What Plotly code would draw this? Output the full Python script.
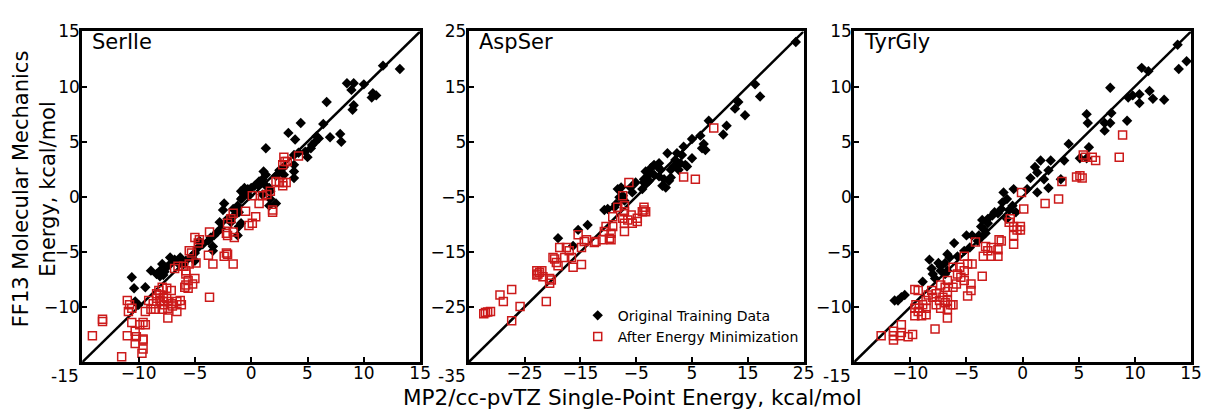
import plotly.graph_objects as go

# ---------------- data ----------------
panel_names = ["SerIle", "AspSer", "TyrGly"]

serile_original = [(11.7,11.9),(13.2,11.6),(8.5,10.3),(9.1,10.3),(8.9,9.7),(10.0,10.2),(10.8,9.4),(11.1,9.2),(10.7,9.0),(9.1,8.3),(9.0,7.9),(6.7,8.6),(4.4,6.7),(6.4,6.6),(3.3,5.8),(3.9,5.2),(7.0,5.4),(7.9,5.7),(8.0,5.0),(5.8,5.5),(6.0,5.3),(5.7,5.0),(5.4,4.7),(5.3,4.4),(4.8,4.1),(5.0,3.6),(4.2,4.0),(3.8,3.8),(1.3,4.4),(3.8,2.9),(3.8,2.3),(3.8,1.7),(2.9,2.0),(2.9,2.7),(2.5,2.4),(2.2,1.9),(1.1,2.3),(1.3,2.0),(1.0,1.6),(0.7,1.4),(0.6,1.1),(0.3,1.0),(0.0,0.8),(-0.3,0.7),(-0.5,0.5),(-0.6,0.2),(-0.8,-0.1),(-0.9,-0.2),(-0.2,0.1),(-0.6,0.8),(-0.9,0.5),(1.3,1.0),(1.6,0.8),(1.7,0.5),(1.6,-0.8),(2.2,-0.6),(1.7,-0.2),(1.0,0.2),(-1.2,-0.8),(-1.6,-1.1),(-1.1,-1.4),(-1.5,-1.7),(-1.8,-2.3),(-0.9,-2.4),(-1.1,-2.7),(-1.2,-3.5),(-2.4,-0.6),(-2.5,-1.2),(-2.1,-2.0),(-2.8,-2.3),(-2.7,-2.9),(-3.0,-3.2),(-3.3,-3.5),(-3.6,-3.7),(-3.8,-4.0),(-3.4,-4.5),(-3.4,-4.9),(-4.3,-4.3),(-4.6,-4.0),(-4.7,-4.6),(-5.0,-5.1),(-5.3,-5.4),(-5.8,-5.8),(-5.0,-5.8),(-6.0,-6.1),(-6.3,-5.5),(-6.8,-5.7),(-7.2,-5.5),(-7.1,-6.0),(-7.5,-6.4),(-7.9,-6.1),(-8.1,-6.7),(-7.7,-6.8),(-7.8,-7.1),(-8.1,-7.2),(-8.4,-7.0),(-8.9,-6.7),(-9.4,-8.2),(-10.3,-9.5),(-10.0,-9.8),(-10.6,-7.3),(-10.4,-8.3),(-6.5,-6.0)]

serile_minimized = [(2.9,3.6),(3.0,3.2),(2.8,2.9),(3.2,3.2),(4.2,3.7),(2.2,1.4),(2.5,1.3),(2.8,1.3),(3.1,1.3),(2.8,1.0),(1.7,0.5),(1.4,0.2),(0.7,-0.6),(1.0,0.1),(0.1,0.1),(0.4,-1.8),(0.1,-2.4),(-0.2,-2.6),(-0.5,-1.3),(1.9,-1.4),(1.9,-1.2),(-1.6,-1.5),(-1.8,-2.0),(-2.1,-2.4),(-1.6,-3.2),(-1.5,-3.7),(-2.2,-3.3),(-2.1,-3.5),(-3.7,-3.2),(-4.6,-3.9),(-5.0,-3.7),(-4.7,-4.2),(-5.5,-4.9),(-5.3,-5.1),(-3.8,-5.3),(-3.4,-6.1),(-2.2,-5.1),(-2.1,-5.2),(-2.4,-5.4),(-1.6,-6.1),(-4.9,-6.0),(-5.5,-6.1),(-5.8,-6.7),(-6.0,-6.3),(-6.5,-6.3),(-6.8,-6.5),(-5.8,-7.0),(-5.0,-7.4),(-5.2,-7.9),(-5.6,-7.6),(-5.8,-8.0),(-5.6,-8.3),(-5.9,-8.2),(-3.7,-9.1),(-6.3,-9.4),(-6.2,-9.8),(-6.6,-9.5),(-6.6,-10.4),(-7.1,-8.5),(-7.5,-8.3),(-7.9,-8.2),(-8.2,-8.5),(-8.4,-8.8),(-8.1,-8.9),(-7.8,-9.1),(-8.4,-9.2),(-8.1,-9.4),(-7.8,-9.5),(-7.5,-9.2),(-7.4,-9.5),(-7.7,-9.8),(-7.1,-9.7),(-7.0,-9.9),(-7.4,-10.1),(-7.9,-10.2),(-8.5,-10.2),(-8.9,-10.2),(-9.4,-10.4),(-8.7,-9.7),(-9.1,-9.4),(-7.4,-11.0),(-11.0,-9.4),(-10.9,-10.4),(-10.8,-9.8),(-10.6,-10.1),(-13.2,-11.3),(-13.2,-11.1),(-14.1,-12.6),(-11.0,-12.6),(-10.3,-12.2),(-10.2,-12.7),(-10.3,-13.3),(-9.6,-12.9),(-9.6,-13.0),(-10.6,-11.4),(-9.9,-11.6),(-9.6,-11.4),(-9.4,-11.6),(-9.7,-14.2),(-11.5,-14.5),(-9.6,-13.8)]

aspser_original = [(23.6,23.1),(16.3,15.4),(17.2,13.2),(13.3,12.2),(12.7,11.0),(14.5,9.8),(8.0,8.8),(11.2,7.9),(10.6,6.3),(6.5,6.1),(5.0,5.5),(7.1,4.6),(6.8,3.8),(7.4,3.5),(3.5,4.1),(3.2,2.6),(5.0,2.0),(0.6,2.9),(2.3,2.9),(2.9,1.1),(2.0,1.7),(1.7,0.5),(2.6,-0.1),(3.8,0.8),(4.1,0.5),(2.3,0.5),(1.2,-0.1),(-0.9,1.1),(-1.8,0.8),(-2.4,0.2),(-2.7,-0.4),(-3.3,-0.4),(-3.0,-1.3),(-3.6,-1.8),(-3.6,-2.4),(-2.7,-2.1),(-1.8,-1.0),(-0.9,-1.3),(0.0,-1.8),(-0.3,-3.0),(0.3,-3.3),(0.9,-2.1),(1.2,-1.5),(-0.6,-0.1),(-1.2,0.5),(-3.0,-2.4),(-3.9,-3.6),(-5.1,-2.4),(-6.0,-3.3),(-5.7,-4.2),(-7.7,-3.3),(-8.3,-3.6),(-7.4,-4.8),(-8.0,-5.1),(-8.6,-6.3),(-8.9,-6.9),(-7.1,-5.7),(-10.1,-7.2),(-10.7,-7.4),(-13.7,-10.1),(-15.4,-11.0),(-19.0,-12.5),(-16.3,-13.9)]

aspser_minimized = [(8.9,7.5),(3.5,-1.4),(5.6,-1.8),(-6.3,-2.4),(-7.4,-4.8),(-7.1,-6.6),(-8.3,-6.9),(-9.2,-8.6),(-7.1,-7.7),(-7.4,-8.9),(-6.5,-9.2),(-7.1,-9.8),(-5.9,-8.3),(-5.7,-9.8),(-4.8,-9.5),(-4.8,-8.9),(-3.6,-6.9),(-3.6,-7.4),(-3.3,-7.7),(-3.9,-7.7),(-7.1,-11.3),(-9.2,-10.4),(-9.5,-11.6),(-9.8,-12.5),(-9.5,-12.8),(-10.4,-10.4),(-10.7,-11.3),(-11.0,-12.8),(-12.2,-13.1),(-12.5,-13.3),(-13.9,-12.8),(-14.3,-13.1),(-14.8,-14.2),(-15.4,-11.9),(-18.7,-14.2),(-17.5,-14.2),(-17.0,-14.8),(-17.8,-16.0),(-16.6,-16.0),(-16.3,-17.8),(-14.8,-17.3),(-19.6,-16.3),(-19.3,-16.9),(-19.0,-17.5),(-19.9,-16.0),(-22.8,-18.4),(-22.3,-18.7),(-22.8,-19.2),(-21.9,-18.4),(-22.6,-19.0),(-20.5,-19.8),(-20.2,-20.1),(-20.5,-20.7),(-21.7,-19.5),(-21.1,-24.0),(-27.3,-21.8),(-29.4,-22.8),(-28.8,-24.0),(-25.8,-24.9),(-27.3,-27.5),(-32.0,-26.0),(-31.6,-25.9),(-31.1,-25.8),(-32.3,-26.2)]

tyrgly_original = [(13.8,13.8),(14.6,12.3),(13.9,11.6),(10.6,11.7),(11.2,11.4),(7.8,9.9),(11.3,9.6),(10.4,9.3),(9.8,9.2),(9.4,9.0),(11.6,8.9),(10.4,8.5),(12.6,8.8),(9.3,6.9),(5.7,7.5),(5.8,6.7),(7.9,7.6),(7.8,6.7),(7.3,6.7),(7.3,6.0),(4.1,4.8),(5.9,4.5),(5.7,3.5),(5.1,3.5),(3.7,3.3),(3.4,1.6),(2.5,3.3),(1.6,3.3),(2.3,2.4),(1.1,2.7),(1.3,2.2),(0.7,1.7),(1.9,1.6),(2.3,0.8),(1.3,0.4),(0.4,0.7),(-0.8,0.7),(-1.7,0.4),(-1.8,-0.5),(-1.4,-0.2),(-0.9,-0.8),(-1.9,-1.1),(-2.2,-1.5),(-2.7,-1.7),(-3.1,-2.0),(-3.6,-2.1),(-3.1,-2.4),(-3.7,-2.7),(-3.4,-3.0),(-3.9,-3.5),(-4.5,-3.5),(-5.0,-3.5),(-4.0,-4.0),(-3.7,-3.7),(-3.3,-3.3),(-2.5,-1.4),(-1.4,-2.0),(-0.6,-1.4),(-1.2,-1.2),(-6.1,-4.2),(-4.7,-4.6),(-5.2,-4.9),(-5.8,-5.4),(-6.7,-5.2),(-6.5,-5.5),(-6.9,-6.0),(-7.3,-6.3),(-7.5,-6.0),(-8.3,-5.7),(-8.1,-6.5),(-8.0,-7.0),(-7.3,-6.7),(-6.9,-7.0),(-6.7,-6.7),(-8.9,-7.7),(-7.8,-7.4),(-10.8,-9.1),(-11.4,-9.4),(-11.1,-9.4),(-10.5,-8.9)]

tyrgly_minimized = [(8.9,5.6),(8.6,3.6),(6.5,3.3),(6.2,3.6),(5.6,3.6),(5.4,3.8),(5.1,1.9),(4.8,1.8),(5.3,1.7),(3.5,1.4),(3.2,-0.2),(2.0,-0.6),(-0.1,0.4),(0.1,-1.1),(-1.1,-2.0),(-1.2,-2.3),(-0.8,-2.7),(-0.2,-2.7),(-0.5,-3.0),(-0.2,-3.0),(-0.8,-3.5),(-0.8,-4.3),(-1.9,-4.0),(-2.1,-3.9),(-2.8,-4.6),(-3.1,-4.9),(-2.2,-4.8),(-2.2,-5.4),(-2.8,-5.4),(-3.5,-5.4),(-3.3,-4.5),(-4.2,-4.1),(-5.2,-5.4),(-4.5,-6.1),(-4.9,-6.1),(-5.2,-6.7),(-5.6,-6.4),(-6.2,-6.4),(-5.8,-7.0),(-5.5,-7.3),(-5.2,-7.6),(-4.6,-7.9),(-4.6,-8.5),(-4.9,-9.0),(-3.6,-7.2),(-5.9,-7.9),(-6.2,-8.2),(-6.7,-7.6),(-6.9,-8.2),(-7.3,-8.0),(-6.7,-8.6),(-7.1,-9.1),(-6.7,-9.4),(-6.9,-9.6),(-7.4,-9.4),(-7.7,-8.8),(-8.0,-9.1),(-8.1,-8.5),(-8.4,-8.9),(-8.6,-9.4),(-9.3,-8.5),(-9.6,-8.4),(-7.7,-9.8),(-7.3,-10.1),(-6.7,-10.2),(-6.4,-9.8),(-6.7,-11.0),(-6.2,-9.8),(-8.9,-9.8),(-8.6,-10.1),(-8.6,-10.7),(-9.0,-10.8),(-9.5,-9.8),(-9.6,-10.1),(-9.6,-10.8),(-9.3,-10.4),(-9.2,-10.1),(-7.8,-12.0),(-10.8,-11.6),(-9.8,-12.5),(-10.2,-12.7),(-10.8,-12.3),(-10.9,-12.6),(-11.5,-12.2),(-11.5,-12.6),(-11.5,-13.0),(-12.6,-12.6)]

axis_ranges = [(-15, 15), (-35, 25), (-15, 15)]
x_tickvals = [[-10, -5, 0, 5, 10, 15], [-25, -15, -5, 5, 15, 25], [-10, -5, 0, 5, 10, 15]]
y_tickvals = [[-10, -5, 0, 5, 10, 15], [-25, -15, -5, 5, 15, 25], [-10, -5, 0, 5, 10, 15]]
corner_labels = ["-15", "-35", "-15"]

legend_names = ["Original Training Data", "After Energy Minimization"]
x_title = "MP2/cc-pvTZ Single-Point Energy, kcal/mol"
y_title = "FF13 Molecular Mechanics<br>Energy, kcal/mol"

# ---------------- figure ----------------
W, H = 1213, 409
x_px = [(83, 424), (473, 811), (862, 1202)]
y_px = (22, 361)

FONT = "DejaVu Sans"
RED = "#CC1A1A"

originals = [serile_original, aspser_original, tyrgly_original]
minimized = [serile_minimized, aspser_minimized, tyrgly_minimized]

fig = go.Figure()
layout = dict(width=W, height=H, margin=dict(l=0, r=0, t=0, b=0),
              plot_bgcolor="white", paper_bgcolor="white",
              font=dict(family=FONT, color="black"))
annotations = []

for i in range(3):
    xa = "x" if i == 0 else f"x{i+1}"
    ya = "y" if i == 0 else f"y{i+1}"
    lo, hi = axis_ranges[i]
    # identity line
    fig.add_trace(go.Scatter(x=[lo, hi], y=[lo, hi], mode="lines",
                             line=dict(color="black", width=2.5),
                             xaxis=xa, yaxis=ya, showlegend=False, hoverinfo="skip"))
    ox = [p[0] for p in originals[i]]
    oy = [p[1] for p in originals[i]]
    mx = [p[0] for p in minimized[i]]
    my = [p[1] for p in minimized[i]]
    fig.add_trace(go.Scatter(x=ox, y=oy, mode="markers", name=legend_names[0],
                             marker=dict(symbol="diamond", size=8, color="black",
                                         line=dict(width=0)),
                             xaxis=xa, yaxis=ya, showlegend=(i == 1),
                             legendrank=1))
    fig.add_trace(go.Scatter(x=mx, y=my, mode="markers", name=legend_names[1],
                             marker=dict(symbol="square-open", size=8, color=RED,
                                         line=dict(width=1.5, color=RED)),
                             xaxis=xa, yaxis=ya, showlegend=(i == 1),
                             legendrank=2))

    common = dict(showline=True, linewidth=3, linecolor="black", mirror=True,
                  ticks="inside", ticklen=5, tickwidth=2, tickcolor="black",
                  showgrid=False, zeroline=False,
                  tickfont=dict(family=FONT, size=17, color="black"),
                  range=[lo, hi], fixedrange=True)
    xkey = "xaxis" if i == 0 else f"xaxis{i+1}"
    ykey = "yaxis" if i == 0 else f"yaxis{i+1}"
    layout[xkey] = dict(common, domain=[x_px[i][0] / W, x_px[i][1] / W],
                        anchor=ya, tickvals=x_tickvals[i], ticklabelstandoff=-7)
    layout[ykey] = dict(common, domain=[1 - y_px[1] / H, 1 - y_px[0] / H],
                        anchor=xa, tickvals=y_tickvals[i], ticklabelstandoff=-4)

    # panel label
    annotations.append(dict(text=panel_names[i], xref=f"{xa} domain", yref=f"{ya} domain",
                            x=0, y=1, xanchor="left", yanchor="middle",
                            xshift=8, yshift=-11, showarrow=False,
                            font=dict(family=FONT, size=21, color="black")))
    # corner tick label
    annotations.append(dict(text=corner_labels[i], xref=f"{xa} domain", yref=f"{ya} domain",
                            x=0, y=0, xanchor="right", yanchor="middle",
                            xshift=-1, yshift=-14, showarrow=False,
                            font=dict(family=FONT, size=17, color="black")))

annotations.append(dict(text=x_title, xref="paper", yref="paper",
                        x=638 / W, y=1 - 397 / H, xanchor="center", yanchor="middle",
                        showarrow=False, font=dict(family=FONT, size=21.5, color="black")))
annotations.append(dict(text=y_title, xref="paper", yref="paper",
                        x=35 / W, y=1 - 183 / H, xanchor="center", yanchor="middle",
                        textangle=-90, showarrow=False,
                        font=dict(family=FONT, size=21, color="black")))

layout["annotations"] = annotations
layout["legend"] = dict(x=583 / W, y=1 - 297 / H, xanchor="left", yanchor="top",
                        bgcolor="rgba(0,0,0,0)", borderwidth=0,
                        font=dict(family=FONT, size=14, color="black"),
                        tracegroupgap=0)
layout["showlegend"] = True
fig.update_layout(**layout)

fig.write_html("out.html")
